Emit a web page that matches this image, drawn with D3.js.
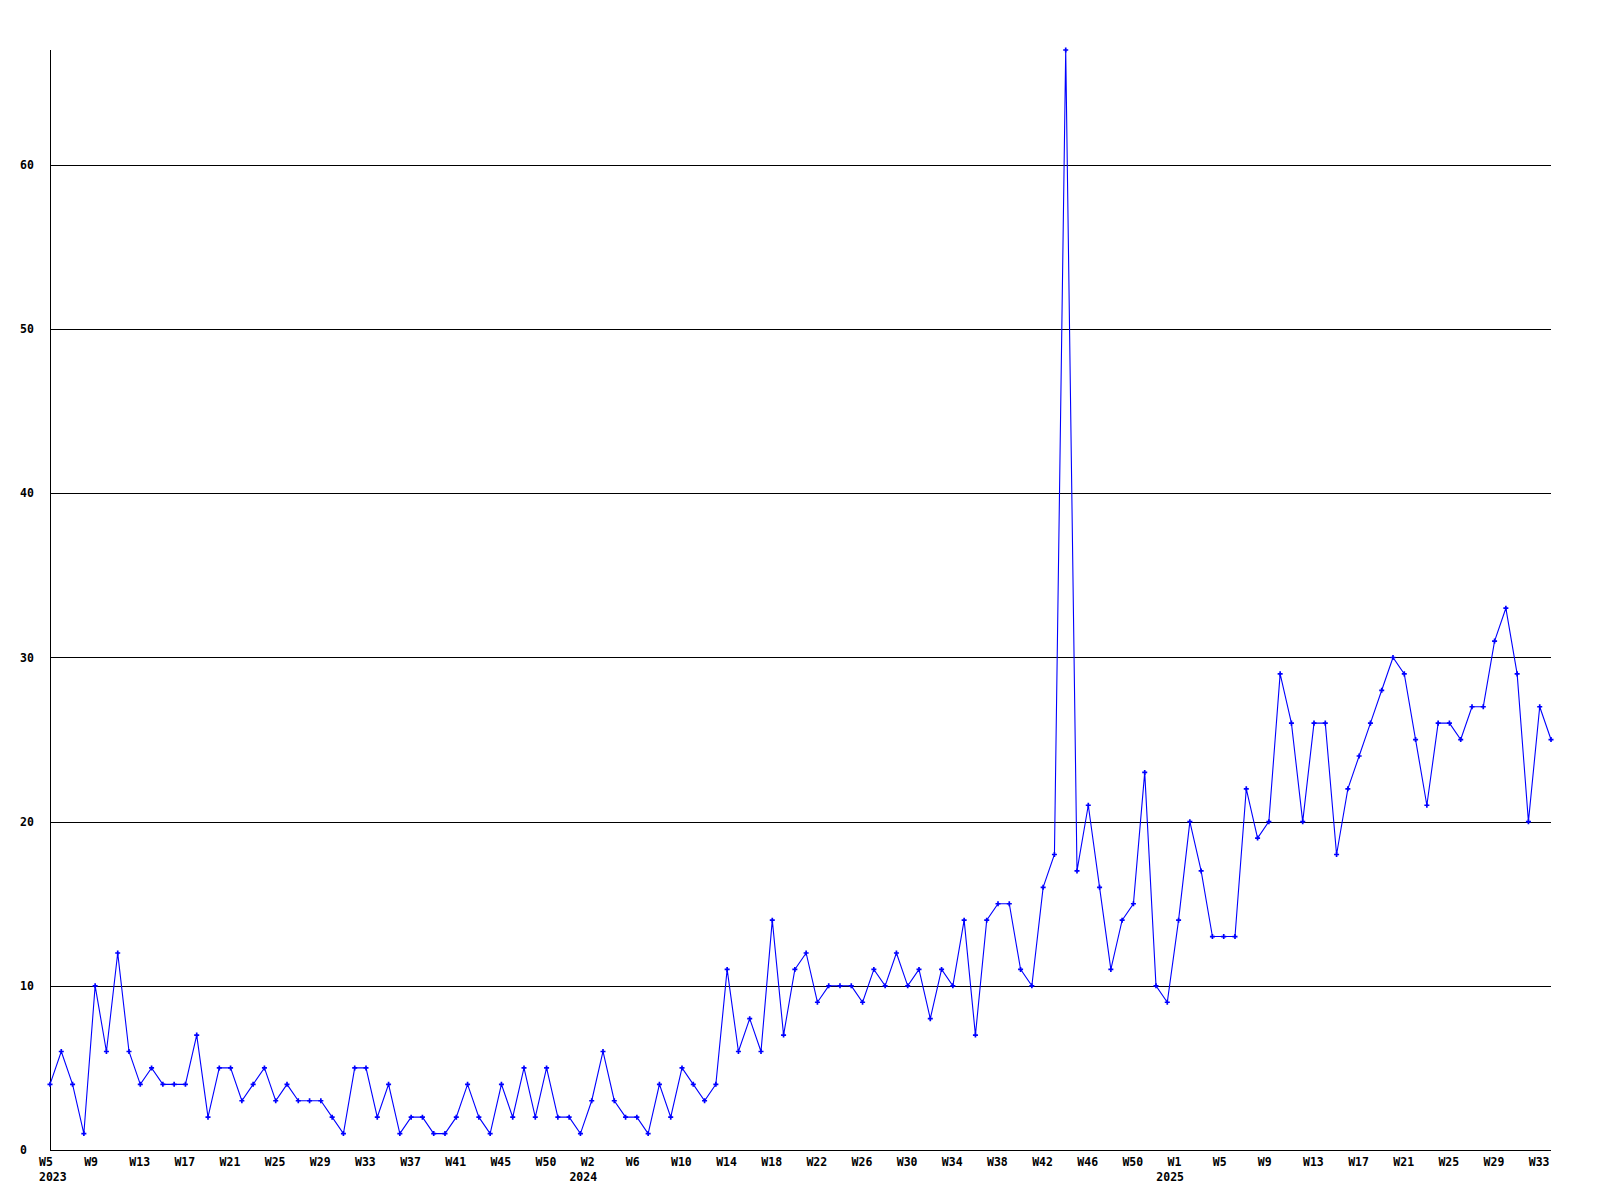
<!DOCTYPE html>
<html>
<head>
<meta charset="utf-8">
<script src="https://cdn.jsdelivr.net/npm/d3@7"></script>
<style>
  html, body { margin: 0; padding: 0; background: #ffffff; }
  svg { display: block; }
  text { font-family: "DejaVu Sans Mono", "Liberation Mono", monospace; font-weight: bold; font-size: 11.5px; fill: #000; }
</style>
</head>
<body>
<svg id="chart" width="1600" height="1200"></svg>
<script>
// Weekly values, 2023 W5 .. 2025 W34 (one value per point)
const values = [
  4,6,4,1,10,6,12,6,4,5,4,4,4,7,2,5,5,3,4,5,3,4,3,3,3,2,1,5,5,2,4,1,
  2,2,1,1,2,4,2,1,4,2,5,2,5,2,2,1,3,6,3,2,2,1,4,2,5,4,3,4,11,6,8,6,14,
  7,11,12,9,10,10,10,9,11,10,12,10,11,8,11,10,14,7,14,15,15,11,10,16,18,67,17,21,16,
  11,14,15,23,10,9,14,20,17,13,13,13,22,19,20,29,26,20,26,26,18,22,24,26,28,30,29,25,21,26,
  26,25,27,27,31,33,29,20,27,25
];

// Week tick labels and the point index each belongs to
const tickIndex = [0,4,8,12,16,20,24,28,32,36,40,44,48,52,56,60,64,68,72,76,80,84,88,92,96,100,104,108,112,116,120,124,128,132];
const tickLabels = ["W5","W9","W13","W17","W21","W25","W29","W33","W37","W41","W45","W50",
  "W2","W6","W10","W14","W18","W22","W26","W30","W34","W38","W42","W46","W50",
  "W1","W5","W9","W13","W17","W21","W25","W29","W33"];

// Year labels and the point index where each year starts
const yearIndex = [0, 47, 99];
const yearLabels = ["2023", "2024", "2025"];

// Y axis ticks
const yTicks = [0, 10, 20, 30, 40, 50, 60];

(function () {
  const svg = d3.select("#chart");
  const mLeft = 50, mRight = 1551, mTop = 50, mBottom = 1150;

  const x = d3.scaleLinear().domain([0, values.length - 1]).range([mLeft, mRight]);
  const y = d3.scaleLinear().domain([0, d3.max(values)]).range([mBottom, mTop]);

  // gridlines
  svg.append("g").selectAll("line")
    .data(yTicks.filter(d => d > 0))
    .join("line")
    .attr("x1", mLeft).attr("x2", mRight)
    .attr("y1", d => Math.round(y(d)) + 0.5).attr("y2", d => Math.round(y(d)) + 0.5)
    .attr("stroke", "#000").attr("stroke-width", 1)
    .attr("shape-rendering", "crispEdges");

  // y-axis labels
  svg.append("g").selectAll("text")
    .data(yTicks)
    .join("text")
    .attr("x", 20)
    .attr("y", d => y(d))
    .attr("dy", "0.36em")
    .text(d => d);

  // axis lines
  svg.append("line")
    .attr("x1", mLeft + 0.5).attr("x2", mLeft + 0.5)
    .attr("y1", mTop).attr("y2", mBottom + 0.5)
    .attr("stroke", "#000").attr("shape-rendering", "crispEdges");
  svg.append("line")
    .attr("x1", mLeft).attr("x2", mRight)
    .attr("y1", mBottom + 0.5).attr("y2", mBottom + 0.5)
    .attr("stroke", "#000").attr("shape-rendering", "crispEdges");

  // x week labels
  svg.append("g").selectAll("text")
    .data(tickIndex)
    .join("text")
    .attr("x", d => x(d) - 11)
    .attr("y", mBottom + 16)
    .text((d, i) => tickLabels[i]);

  // year labels
  svg.append("g").selectAll("text")
    .data(yearIndex)
    .join("text")
    .attr("x", d => x(d) - 11)
    .attr("y", mBottom + 31)
    .text((d, i) => yearLabels[i]);

  // line
  const line = d3.line().x((d, i) => x(i)).y(d => y(d));
  svg.append("path")
    .datum(values)
    .attr("d", line)
    .attr("fill", "none")
    .attr("stroke", "#0000ff")
    .attr("stroke-width", 1.1);

  // markers
  const sym = d3.symbol().type(d3.symbolCross).size(14);
  svg.append("g").selectAll("path")
    .data(values)
    .join("path")
    .attr("transform", (d, i) => `translate(${x(i)},${y(d)})`)
    .attr("d", sym)
    .attr("fill", "#0000ff");
})();
</script>
</body>
</html>
